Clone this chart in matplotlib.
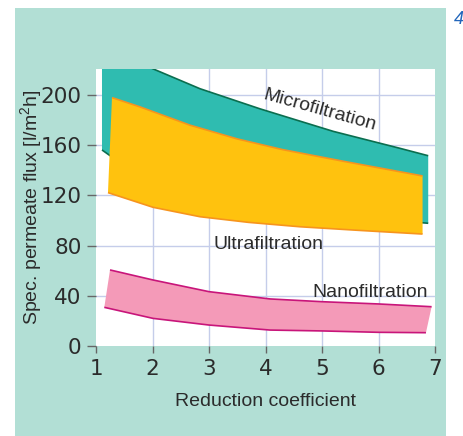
import matplotlib
matplotlib.use("Agg")
import matplotlib.pyplot as plt
from matplotlib.patches import Rectangle

plt.rcParams['font.family'] = ['Liberation Sans', 'DejaVu Sans']
plt.rcParams['mathtext.default'] = 'regular'

# microfiltration band (upper edge runs off the top of the plot)
mf_up_x = [1.106, 1.5, 2.0, 2.84, 3.9, 5.2, 6.38, 6.88]
mf_up_y = [240, 231, 221, 205, 189, 171, 157.5, 151.6]
mf_lo_x = [1.106, 1.25, 2.0, 3.0, 4.0, 5.0, 6.0, 6.88]
mf_lo_y = [156.2, 151.6, 138, 125, 115, 107, 101, 97.8]

# ultrafiltration band
uf_up_x = [1.283, 1.78, 2.66, 3.5, 4.3, 5.4, 6.78]
uf_up_y = [197.9, 190.5, 176, 165, 156.5, 147, 135.5]
uf_lo_x = [1.212, 2.01, 2.84, 3.7, 4.61, 5.7, 6.78]
uf_lo_y = [122.2, 110.5, 103, 98.5, 95, 92, 89.2]

# nanofiltration band
nf_up_x = [1.248, 2.01, 3.0, 4.08, 5.0, 6.0, 6.94]
nf_up_y = [60.6, 52.6, 43.3, 37.5, 35.3, 33.5, 31.3]
nf_lo_x = [1.147, 2.01, 3.0, 4.08, 5.0, 6.0, 6.84]
nf_lo_y = [30.8, 22, 16.7, 12.7, 12, 10.9, 10.6]

xticks = [1, 2, 3, 4, 5, 6, 7]
yticks = [0, 40, 80, 120, 160, 200]

fig = plt.figure(figsize=(4.63, 4.36), dpi=100)
fig.patch.set_facecolor('white')
bg = Rectangle((15/463, 0), (446-15)/463, 1 - 8/436,
               transform=fig.transFigure, facecolor='#b2dfd5',
               edgecolor='none', zorder=-10)
fig.add_artist(bg)

ax = fig.add_axes([96/463, 1 - 346/436, 339/463, 277/436])
ax.set_zorder(1)
ax.set_facecolor('white')
ax.set_xlim(1, 7)
ax.set_ylim(0, 220.7)

def band(ux, uy, lx, ly, fill, edge, z):
    px = ux + lx[::-1]
    py = uy + ly[::-1]
    ax.fill(px, py, color=fill, lw=0, zorder=z)
    ax.plot(ux, uy, color=edge, lw=1.2, zorder=z + 0.5, solid_capstyle='butt')
    ax.plot(lx, ly, color=edge, lw=1.2, zorder=z + 0.5, solid_capstyle='butt')

band(mf_up_x, mf_up_y, mf_lo_x, mf_lo_y, '#2fbcb0', '#0b6e4f', 2)
band(uf_up_x, uf_up_y, uf_lo_x, uf_lo_y, '#ffc20e', '#f7941d', 3)
band(nf_up_x, nf_up_y, nf_lo_x, nf_lo_y, '#f49ab8', '#c8157a', 4)

ax.set_xticks(xticks)
ax.set_yticks(yticks)
for x in xticks[1:-1]:
    ax.axvline(x, color='#c5cdea', lw=1, zorder=1)
for y in yticks[1:]:
    ax.axhline(y, color='#c5cdea', lw=1, zorder=1)

for s in ax.spines.values():
    s.set_visible(False)
ax.tick_params(axis='x', length=5, width=1, color='#666666', pad=4,
               labelsize=15.5, labelcolor='#2b2b2b',
               labelfontfamily='Liberation Sans Narrow')
ax.tick_params(axis='y', length=6.5, width=1, color='#666666', pad=4,
               labelsize=15.5, labelcolor='#2b2b2b',
               labelfontfamily='Liberation Sans Narrow')

ax.set_xlabel('Reduction coefficient', fontsize=14, color='#2b2b2b')
ax.xaxis.set_label_coords(0.5, -0.17)
ax.xaxis.label.set_va('top')
ax.set_ylabel('Spec. permeate flux [l/m$^2$h]', fontsize=14, color='#2b2b2b')
ax.yaxis.set_label_coords(-0.153, 0.5)

ax.text(4.96, 187.8, 'Microfiltration', fontsize=14, color='#2b2b2b',
        rotation=-15.6, ha='center', va='center', rotation_mode='anchor', zorder=6)
ax.text(4.06, 77.5, 'Ultrafiltration', fontsize=14, color='#2b2b2b',
        ha='center', va='baseline', zorder=6)
ax.text(5.85, 39.3, 'Nanofiltration', fontsize=14, color='#2b2b2b',
        ha='center', va='baseline', zorder=6)

fig.text(454/463, 1 - 24/436, '4', fontsize=13, color='#2266bb', style='italic')

fig.savefig('out.png', dpi=100)
